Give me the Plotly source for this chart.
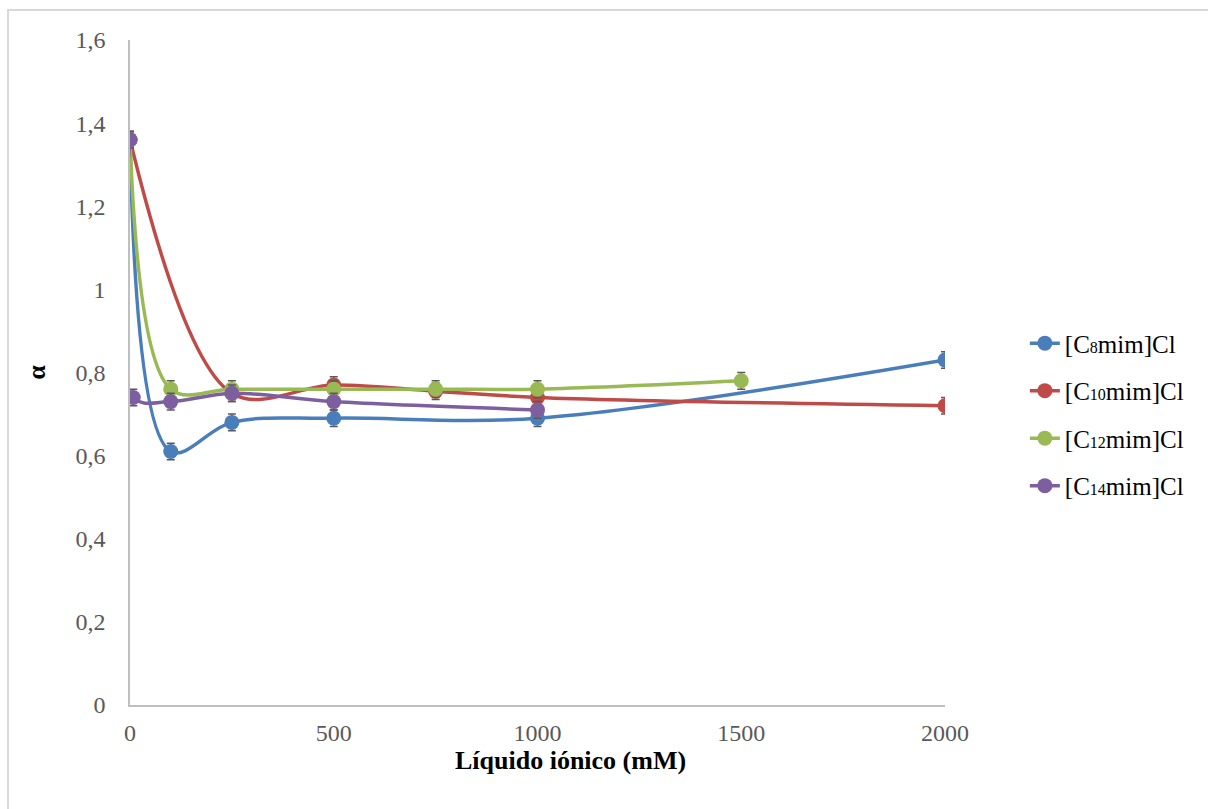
import plotly.graph_objects as go

def sub(s):
    return '<span style="font-size:16px">' + s + '</span>'

names = ["[C" + sub("8") + "mim]Cl", "[C" + sub("10") + "mim]Cl",
         "[C" + sub("12") + "mim]Cl", "[C" + sub("14") + "mim]Cl"]
colors = ["#4a7ebb", "#be4b48", "#98b954", "#7d5fa0"]

x_c8 = [0, 100, 250, 500, 1000, 2000]
y_c8 = [1.36, 0.61, 0.68, 0.69, 0.69, 0.83]
x_c10 = [0, 250, 500, 750, 1000, 2000]
y_c10 = [1.36, 0.75, 0.77, 0.755, 0.74, 0.72]
x_c12 = [0, 100, 250, 500, 750, 1000, 1500]
y_c12 = [1.36, 0.76, 0.76, 0.76, 0.76, 0.76, 0.78]
x_c14 = [0, 8, 100, 250, 500, 1000]
y_c14 = [1.36, 0.74, 0.73, 0.75, 0.73, 0.71]
err = 0.02

xs = [x_c8, x_c10, x_c12, x_c14]
ys = [y_c8, y_c10, y_c12, y_c14]

font_family = "Liberation Serif"

fig = go.Figure()
for i, (n, c, x, y) in enumerate(zip(names, colors, xs, ys)):
    fig.add_trace(go.Scatter(
        x=x, y=y, name=n, mode="lines+markers", legendgroup=str(i),
        line=dict(color=c, width=3.5, shape="spline", smoothing=1),
        marker=dict(color=c, size=15),
        error_y=dict(type="constant", value=err, color="#595959", thickness=1.5, width=4),
    ))

fig.update_layout(
    width=1208, height=809,
    margin=dict(l=130, r=263, t=40, b=104),
    paper_bgcolor="white", plot_bgcolor="white",
    separators=", ",
    font=dict(family=font_family, size=24, color="#595959"),
    showlegend=True,
    legend=dict(x=1.098, y=0.437, xanchor="left", yanchor="middle",
                font=dict(size=25, color="#000000", family=font_family),
                tracegroupgap=12),
    xaxis=dict(range=[0, 2000], dtick=500, tick0=0, showgrid=False, zeroline=False,
               showline=True, linecolor="#bfbfbf", linewidth=1.5, ticks="",
               ticklabelstandoff=5),
    yaxis=dict(range=[0, 1.6], dtick=0.2, tick0=0, showgrid=False, zeroline=False,
               showline=True, linecolor="#bfbfbf", linewidth=1.5, ticks="",
               ticklabelstandoff=18,
               title=dict(text="<b>α</b>", font=dict(size=26, color="#000000"), standoff=22)),
)

fig.add_annotation(text="<b>Líquido iónico (mM)</b>", xref="paper", yref="paper",
                   x=(570 - 130) / 815, y=(705 - 760) / 665, xanchor="center", yanchor="middle",
                   showarrow=False, font=dict(size=26, color="#000000", family=font_family))

fig.add_shape(type="rect", xref="paper", yref="paper",
              x0=(8 - 130) / 815, x1=1.4, y0=-0.2, y1=(705 - 10) / 665,
              line=dict(color="#d9d9d9", width=2), fillcolor="rgba(0,0,0,0)", layer="below")

fig.write_html("out.html")
